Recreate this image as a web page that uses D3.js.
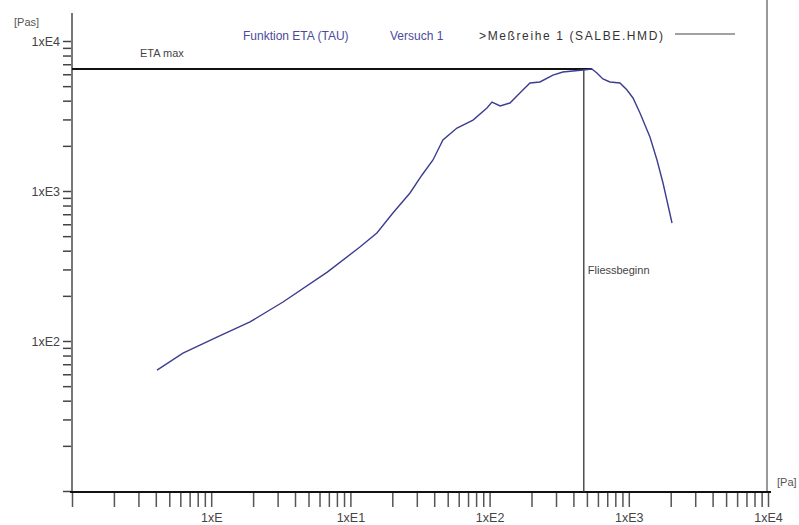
<!DOCTYPE html>
<html>
<head>
<meta charset="utf-8">
<script src="https://cdn.jsdelivr.net/npm/d3@7"></script>
<style>
  body { margin: 0; background: #fff; }
  svg { display: block; }
  text { font-family: "Liberation Sans", Arial, sans-serif; }
</style>
</head>
<body>
<script>
// shear stress TAU [Pa] and viscosity ETA [Pas]
const tau = [0.408, 0.627, 1.10, 1.90, 3.28, 6.82, 11.7, 15.5, 20.2, 26.8, 32.7, 39.2, 46.2, 58.3, 76.0, 95.7,
  104, 119, 140, 165, 195, 230, 285, 336, 396, 468, 543, 590, 652, 732, 864, 971, 1072, 1203, 1419, 1594, 1761, 2044];
const eta = [64, 83, 106, 134, 182, 288, 423, 525, 713, 970, 1279, 1610, 2188, 2630, 2972, 3575,
  3920, 3690, 3860, 4500, 5250, 5330, 5930, 6210, 6310, 6410, 6500, 6120, 5580, 5330, 5250, 4710, 4170, 3310, 2290, 1610, 1130, 612];

const etaMax = 6500;
const tauFlow = 475;

const xDecades = [1, 10, 100, 1000, 10000];
const xTickLabels = ['1xE', '1xE1', '1xE2', '1xE3', '1xE4'];
const yDecades = [100, 1000, 10000];
const yTickLabels = ['1xE2', '1xE3', '1xE4'];

const width = 799;
const height = 525;

const svg = d3.select('body')
  .append('svg')
  .attr('width', width)
  .attr('height', height);

const x = d3.scaleLog().domain([0.1, 10000]).range([72, 768]);
const y = d3.scaleLog().domain([10, 10000]).range([491, 41]);

const isDecade = (list, d) => list.findIndex(v => Math.abs(v - d) / v < 1e-9);

// right frame line
svg.append('line')
  .attr('x1', 767).attr('x2', 767)
  .attr('y1', 0).attr('y2', 492)
  .attr('stroke', '#999')
  .attr('stroke-width', 2);

// y axis
const yAxis = svg.append('g')
  .attr('transform', 'translate(72,0)')
  .call(d3.axisLeft(y)
    .tickValues(y.ticks())
    .tickSize(9)
    .tickPadding(3)
    .tickFormat(d => {
      const i = isDecade(yDecades, d);
      return i >= 0 ? yTickLabels[i] : '';
    }));
yAxis.select('.domain').remove();
yAxis.selectAll('line').attr('stroke', '#444').attr('stroke-width', 1.5);
yAxis.selectAll('text').attr('font-size', 12.5).attr('fill', '#444')
  .attr('font-family', '"Liberation Sans", Arial, sans-serif');

svg.append('line')
  .attr('x1', 72).attr('x2', 72)
  .attr('y1', 13).attr('y2', 492)
  .attr('stroke', '#777')
  .attr('stroke-width', 2);

// x axis
const xAxis = svg.append('g')
  .attr('transform', 'translate(0,492)')
  .call(d3.axisBottom(x)
    .tickValues(x.ticks())
    .tickSize(15)
    .tickPadding(6)
    .tickFormat(d => {
      const i = isDecade(xDecades, d);
      return i >= 0 ? xTickLabels[i] : '';
    }));
xAxis.select('.domain').remove();
xAxis.selectAll('line').attr('stroke', '#555').attr('stroke-width', 1.5);
xAxis.selectAll('text').attr('font-size', 12.5).attr('fill', '#444')
  .attr('font-family', '"Liberation Sans", Arial, sans-serif');

svg.append('line')
  .attr('x1', 70).attr('x2', 771)
  .attr('y1', 492).attr('y2', 492)
  .attr('stroke', '#111')
  .attr('stroke-width', 2);

// axis units
svg.append('text').attr('x', 14).attr('y', 26)
  .attr('font-size', 11).attr('fill', '#555').text('[Pas]');
svg.append('text').attr('x', 777).attr('y', 486)
  .attr('font-size', 11).attr('fill', '#555').text('[Pa]');

// ETA max line and flow point
svg.append('line')
  .attr('x1', 72).attr('x2', x(tau[eta.indexOf(etaMax)]))
  .attr('y1', y(etaMax)).attr('y2', y(etaMax))
  .attr('stroke', '#111')
  .attr('stroke-width', 2);

svg.append('line')
  .attr('x1', x(tauFlow)).attr('x2', x(tauFlow))
  .attr('y1', y(etaMax)).attr('y2', 492)
  .attr('stroke', '#333')
  .attr('stroke-width', 1.3);

svg.append('text').attr('x', 140).attr('y', 57)
  .attr('font-size', 11).attr('fill', '#444').text('ETA max');
svg.append('text').attr('x', x(tauFlow) + 4).attr('y', 274)
  .attr('font-size', 11).attr('fill', '#444').text('Fliessbeginn');

// curve
const line = d3.line()
  .x((d, i) => x(tau[i]))
  .y(d => y(d));

svg.append('path')
  .datum(eta)
  .attr('fill', 'none')
  .attr('stroke', '#3d3d8f')
  .attr('stroke-width', 1.4)
  .attr('d', line);

// title and legend
svg.append('text').attr('x', 243).attr('y', 40)
  .attr('font-size', 12).attr('fill', '#4b4b9b').text('Funktion ETA (TAU)');
svg.append('text').attr('x', 390).attr('y', 40)
  .attr('font-size', 12).attr('fill', '#4b4b9b').text('Versuch 1');
svg.append('text').attr('x', 479).attr('y', 40)
  .attr('font-size', 12).attr('fill', '#333')
  .attr('textLength', 184).attr('lengthAdjust', 'spacing')
  .text('>Meßreihe 1 (SALBE.HMD)');
svg.append('line')
  .attr('x1', 675).attr('x2', 735)
  .attr('y1', 34).attr('y2', 34)
  .attr('stroke', '#444')
  .attr('stroke-width', 1.2);
</script>
</body>
</html>
